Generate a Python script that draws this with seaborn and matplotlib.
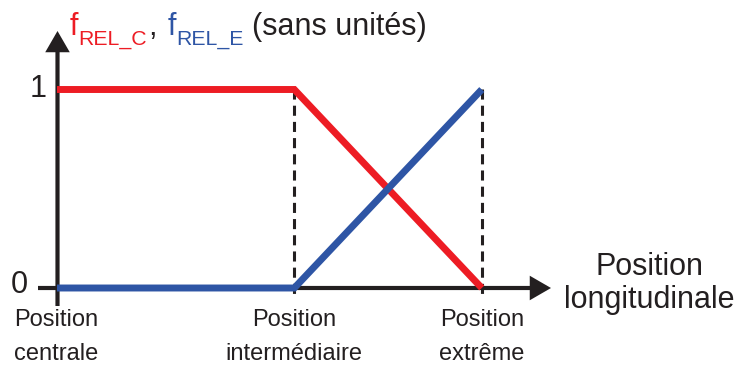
import matplotlib
matplotlib.use("Agg")
import matplotlib.pyplot as plt
import pandas as pd
import seaborn as sns

# positions along the axis (arbitrary units) and the two weighting functions
positions = [0.0, 1.0, 1.79]
f_rel_c = [1.0, 1.0, 0.0]
f_rel_e = [0.0, 0.0, 1.0]
series_names = ["f_REL_C", "f_REL_E"]
position_labels = ["Position\ncentrale", "Position\nintermédiaire", "Position\nextrême"]
y_tick_values = [0, 1]

RED = "#ED1C24"
BLUE = "#2E55A5"
INK = "#231F20"

# pixel mapping of the drawing (origin at the axes crossing)
X0, SX = 57.0, 237.3
Y0, SY = 288.0, 198.5
W, H = 739, 365


def px(x, y):
    """pixel position (from top-left) -> data coords"""
    return (x - X0) / SX, (Y0 - y) / SY


sns.set_theme(style="white")
plt.rcParams["font.family"] = ["Liberation Sans", "DejaVu Sans"]
plt.rcParams["text.color"] = INK

fig = plt.figure(figsize=(W / 100, H / 100), dpi=100)
ax = fig.add_axes([0, 0, 1, 1])
ax.set_xlim(px(0, 0)[0], px(W, 0)[0])
ax.set_ylim(px(0, H)[1], px(0, 0)[1])
ax.axis("off")

df = pd.DataFrame({
    "position": positions * 2,
    "value": f_rel_c + f_rel_e,
    "series": [series_names[0]] * len(positions) + [series_names[1]] * len(positions),
})

# dashed guides at intermediate and extreme positions
y_guide_bottom = px(0, 297)[1]
for xp in positions[1:]:
    ax.plot([xp, xp], [max(y_tick_values), y_guide_bottom], color=INK, lw=2.2,
            dashes=(3.3, 2.0), zorder=1)

# axes with arrow heads
x_start, x_axis_y = px(38, Y0)
x_tip, _ = px(551, Y0)
y_axis_x, y_start = px(57.5, 306)
_, y_tip = px(57.5, 31)
arrow_kw = dict(arrowstyle="-|>,head_length=0.45,head_width=0.26", lw=3.0, color=INK,
                mutation_scale=24, shrinkA=0, shrinkB=0, joinstyle="miter", capstyle="butt")
ax.annotate("", xy=(x_tip, x_axis_y), xytext=(x_start, x_axis_y), arrowprops=arrow_kw, zorder=2)
ax.annotate("", xy=(y_axis_x, y_tip), xytext=(y_axis_x, y_start), arrowprops=arrow_kw, zorder=2)

sns.lineplot(data=df, x="position", y="value", hue="series",
             palette={series_names[0]: RED, series_names[1]: BLUE},
             estimator=None, linewidth=5, legend=False, ax=ax, zorder=3)
for line in ax.lines[-2:]:
    line.set_solid_capstyle("butt")
    line.set_solid_joinstyle("miter")

# y tick labels
ax.text(*px(19.5, 293), str(y_tick_values[0]), fontsize=22, ha="center", va="baseline")
ax.text(*px(38.5, 97), str(y_tick_values[1]), fontsize=22, ha="center", va="baseline")

# position labels under the x axis (baseline given for the last line)
label_y = px(0, 360)[1]
ax.text(px(14, 0)[0], label_y, position_labels[0], fontsize=17, ha="left", va="baseline",
        linespacing=1.7)
for xp, lab in zip(positions[1:], position_labels[1:]):
    ax.text(xp, label_y, lab, fontsize=17, ha="center", va="baseline", linespacing=1.7)

ax.text(*px(649, 308), "Position\nlongitudinale", fontsize=22, ha="center",
        va="baseline", linespacing=1.12)

# title built from coloured pieces: f_REL_C, f_REL_E (sans unités)
title_y = px(0, 35)[1]
prev = ax.text(px(70, 0)[0], title_y, "f", color=RED, fontsize=22, ha="left", va="baseline")
pieces = [
    ("REL_C", RED, 15.3, 0, -10),
    (",", INK, 22, 1, 0),
    ("f", BLUE, 22, 11, 0),
    ("REL_E", BLUE, 15.3, 0, -10),
    ("(sans unités)", INK, 22, 9, 0),
]
for txt, col, size, dx, dy in pieces:
    prev = ax.annotate(txt, xy=(1, title_y), xycoords=(prev, "data"),
                       xytext=(dx, dy), textcoords="offset pixels",
                       color=col, fontsize=size, ha="left", va="baseline")

fig.savefig("out.png", dpi=100)
plt.close(fig)
